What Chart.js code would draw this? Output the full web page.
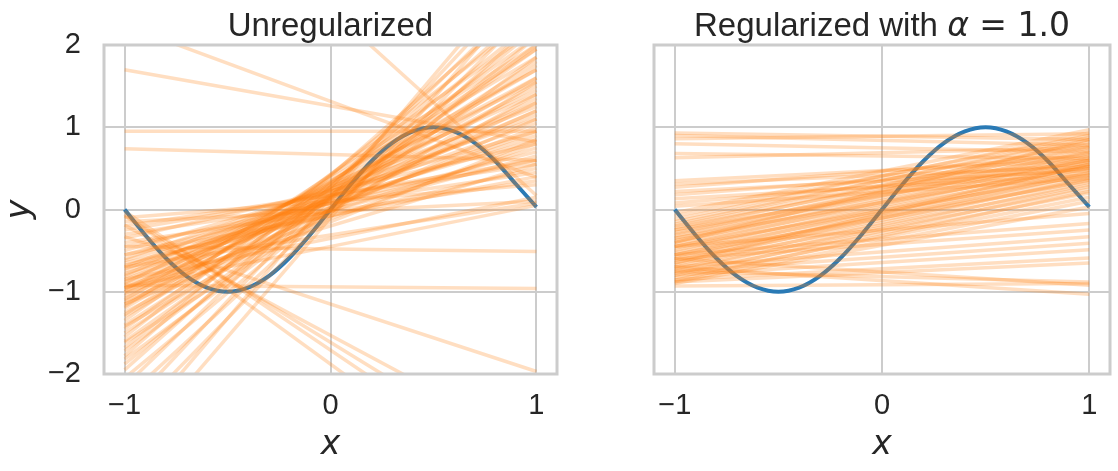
<!DOCTYPE html>
<html>
<head>
<meta charset="utf-8">
<script src="https://cdn.jsdelivr.net/npm/chart.js@4.4.1/dist/chart.umd.min.js"></script>
<style>
  html, body { margin: 0; padding: 0; background: #fff; }
  #wrap { position: relative; width: 1118px; height: 471px; }
  .panel { position: absolute; top: 0; }
</style>
</head>
<body>
<div id="wrap">
  <canvas id="unreg_chart" class="panel" style="left:0" width="560" height="471"></canvas>
  <canvas id="reg_chart" class="panel" style="left:560px" width="558" height="471"></canvas>
</div>
<script>
// tick labels
const xTicks = [-1, 0, 1]
const yTicks = [-2, -1, 0, 1, 2]

// true curve
const sineX = [-1, -0.9, -0.8, -0.7, -0.6, -0.5, -0.4, -0.3, -0.2, -0.1, 0,
  0.1, 0.2, 0.3, 0.4, 0.5, 0.6, 0.7, 0.8, 0.9, 1]
const sineY = [0, -0.31, -0.59, -0.81, -0.95, -1.0, -0.95, -0.81, -0.59, -0.31, 0,
  0.31, 0.59, 0.81, 0.95, 1.0, 0.95, 0.81, 0.59, 0.31, 0.03]

// every fitted line runs from x = -1 to x = 1
const lineEnds = [-1, 1]

// unregularized fits: y at x = -1 and y at x = 1
const unregLeft = [
  -0.10, -0.20, -0.30, -0.35, -0.45, -0.50, -0.55, -0.60, -0.62, -0.65,
  -0.70, -0.72, -0.75, -0.78, -0.80, -0.82, -0.85, -0.88, -0.90, -0.92,
  -0.95, -0.97, -1.00, -1.00, -1.02, -1.05, -1.08, -1.10, -1.12, -1.15,
  -1.18, -1.20, -1.25, -1.28, -1.30, -1.35, -1.40, -1.42, -1.45, -1.50,
  -1.55, -1.60, -1.62, -1.68, -1.72, -1.78, -1.82, -1.88, -1.95, -2.05,
  -2.15, -2.30, -2.45, -2.60, -2.80, -3.00, -0.40, -0.55, -0.25, -0.68,
  -0.15, -0.95, -1.15, 1.70, 0.95, 0.74, 2.24, 4.70, -0.33, -0.19,
  -0.08, -0.02, -0.06, -0.45, -0.92, -0.95, -0.85, -0.70]
const unregRight = [
  0.30, 0.55, 0.45, 0.80, 0.60, 0.95, 0.70, 1.10, 0.85, 0.50,
  1.25, 0.90, 1.05, 0.75, 1.40, 1.15, 0.95, 1.30, 1.55, 1.20,
  1.00, 1.45, 1.70, 1.20, 0.80, 1.60, 1.35, 1.85, 1.10, 1.50,
  2.00, 1.70, 1.30, 1.95, 1.60, 2.20, 1.80, 1.40, 2.10, 1.75,
  2.40, 1.95, 1.55, 2.30, 2.00, 2.60, 1.85, 2.20, 2.50, 2.10,
  2.70, 2.30, 2.90, 2.50, 3.10, 2.80, 0.35, 0.40, 0.60, 0.65,
  0.10, 0.55, 0.85, 0.82, 0.95, 0.60, 0.39, 0.17, -1.97, -2.87,
  -3.15, -3.40, -3.70, -0.51, -0.96, 0.05, 0.15, 0.08]

// regularized fits (alpha = 1.0)
const regLeft = [
  -0.04, -0.08, -0.12, -0.15, -0.18, -0.20, -0.22, -0.25, -0.28, -0.30,
  -0.32, -0.35, -0.38, -0.40, -0.42, -0.45, -0.47, -0.50, -0.52, -0.55,
  -0.57, -0.60, -0.62, -0.65, -0.67, -0.70, -0.72, -0.75, -0.78, -0.80,
  -0.83, -0.86, -0.88, -0.90, -0.35, -0.45, -0.55, -0.25, -0.65, -0.40,
  0.35, 0.31, 0.27, 0.22, 0.18, 0.13, 0.08, 0.04,
  0.93, 0.90, 0.86, 0.80, 0.68, 0.63,
  -0.45, -0.55, -0.60, -0.70, -0.75, -0.80, -0.85, -0.88,
  -0.93, -0.70, -0.75, -0.60]
const regRight = [
  0.97, 0.90, 0.93, 0.85, 0.88, 0.80, 0.75, 0.82, 0.70, 0.77,
  0.65, 0.72, 0.60, 0.68, 0.55, 0.63, 0.50, 0.58, 0.45, 0.53,
  0.40, 0.48, 0.36, 0.44, 0.30, 0.38, 0.25, 0.33, 0.20, 0.28,
  0.15, 0.22, 0.10, 0.03, 0.52, 0.42, 0.35, 0.60, 0.55, 0.85,
  0.60, 0.52, 0.66, 0.47, 0.56, 0.42, 0.50, 0.38,
  0.85, 0.78, 0.92, 0.70, 0.62, 0.75,
  -0.05, -0.17, -0.25, -0.33, -0.41, -0.49, -0.59, -0.65,
  -0.90, -1.03, -0.88, -0.92]

// panel titles, as runs of text in their own fonts
const unregTitle = [{ text: 'Unregularized', font: '33px "Liberation Sans"' }]
const regTitle = [
  { text: 'Regularized with ', font: '33px "Liberation Sans"' },
  { text: '\u03b1', font: 'italic 33px "DejaVu Sans"' },
  { text: ' = 1.0', font: '33px "DejaVu Sans"' },
]

const textColor = '#262626'
const gridColor = '#cccccc'
const minusFmt = (v) => (v < 0 ? '\u2212' + Math.abs(v) : String(v))

// spines round the plot area and the title above it
const framePlugin = {
  id: 'frame',
  afterDraw(chart, args, opts) {
    const { ctx, chartArea: a } = chart
    ctx.save()
    ctx.strokeStyle = gridColor
    ctx.lineWidth = 3
    ctx.strokeRect(a.left, a.top, a.right - a.left, a.bottom - a.top)

    const runs = opts.runs || []
    let total = 0
    runs.forEach((r) => {
      ctx.font = r.font
      total += ctx.measureText(r.text).width
    })
    let x = (a.left + a.right) / 2 - total / 2
    ctx.fillStyle = textColor
    ctx.textBaseline = 'alphabetic'
    ctx.textAlign = 'left'
    runs.forEach((r) => {
      ctx.font = r.font
      ctx.fillText(r.text, x, 36)
      x += ctx.measureText(r.text).width
    })
    ctx.restore()
  },
}

function buildDatasets(lefts, rights) {
  const sets = lefts.map((l, i) => ({
    data: [{ x: lineEnds[0], y: l }, { x: lineEnds[1], y: rights[i] }],
    borderColor: 'rgba(255,127,14,0.26)',
    borderWidth: 3.5,
    pointRadius: 0,
    order: 0,
  }))
  sets.push({
    data: sineX.map((x, i) => ({ x: x, y: sineY[i] })),
    borderColor: '#2a7ab5',
    borderWidth: 4,
    pointRadius: 0,
    cubicInterpolationMode: 'monotone',
    order: 1,
  })
  return sets
}

function makeChart(id, titleRuns, lefts, rights, showY, yWidth, padRight) {
  const ctx = document.getElementById(id).getContext('2d')
  return new Chart(ctx, {
    type: 'line',
    data: { datasets: buildDatasets(lefts, rights) },
    plugins: [framePlugin],
    options: {
      responsive: false,
      animation: false,
      events: [],
      layout: { padding: { left: 0, right: padRight, top: 45, bottom: 0 } },
      plugins: {
        legend: { display: false },
        tooltip: { enabled: false },
        frame: { runs: titleRuns },
      },
      scales: {
        x: {
          type: 'linear',
          min: -1.1,
          max: 1.1,
          afterBuildTicks: (axis) => {
            axis.ticks = xTicks.map((v) => ({ value: v }))
          },
          afterFit: (axis) => {
            axis.height = 97
          },
          grid: { color: gridColor, lineWidth: 2, drawTicks: false },
          border: { display: false },
          ticks: {
            color: textColor,
            font: { family: 'Liberation Sans', size: 29 },
            padding: 15,
            maxRotation: 0,
            callback: minusFmt,
          },
          title: {
            display: true,
            text: 'x',
            color: textColor,
            font: { family: 'DejaVu Sans', style: 'italic', size: 33 },
            padding: { top: 0, bottom: 6 },
          },
        },
        y: {
          type: 'linear',
          min: -2,
          max: 2,
          afterBuildTicks: (axis) => {
            axis.ticks = yTicks.map((v) => ({ value: v }))
          },
          afterFit: (axis) => {
            axis.width = yWidth
          },
          grid: { color: gridColor, lineWidth: 2, drawTicks: false },
          border: { display: false },
          ticks: {
            display: showY,
            color: textColor,
            font: { family: 'Liberation Sans', size: 29 },
            padding: 23,
            callback: minusFmt,
          },
          title: {
            display: showY,
            text: 'y',
            color: textColor,
            font: { family: 'DejaVu Sans', style: 'italic', size: 33 },
            padding: { top: 1, bottom: 0 },
          },
        },
      },
    },
  })
}

makeChart('unreg_chart', unregTitle, unregLeft, unregRight, true, 104, 3)
makeChart('reg_chart', regTitle, regLeft, regRight, false, 94, 8)
</script>
</body>
</html>
